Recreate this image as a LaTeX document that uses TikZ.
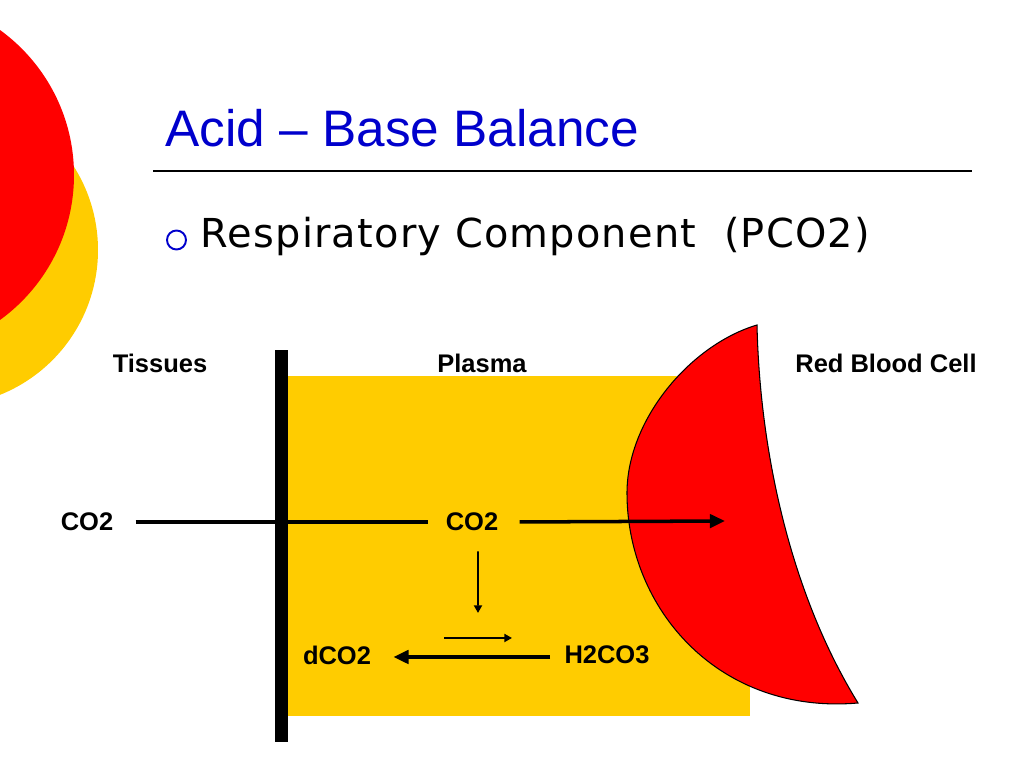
\documentclass[tikz,border=0pt]{standalone}
\usepackage{xcolor}
\usepackage{tikz}
\usepackage{fontspec}
\setmainfont{Liberation Sans}
\newfontfamily\bulletfont[LetterSpace=3]{DejaVu Sans}
\usetikzlibrary{arrows.meta}
\definecolor{slideblue}{RGB}{0,0,204}
\definecolor{plasmayellow}{RGB}{255,204,0}
\definecolor{cellred}{RGB}{255,0,0}
\tikzset{
	lbl/.style={font=\fontsize{7.25}{8}\selectfont\bfseries},
	flow/.style={line width=1pt,-{Triangle[length=4.3pt,width=3.8pt]}},
	thinflow/.style={line width=0.55pt,-{Triangle[length=2.2pt,width=2.3pt]}}
}
\begin{document}
\begin{tikzpicture}
	\useasboundingbox (0,0) rectangle (10.24,7.68);
	% corner circles
	\fill[plasmayellow] (-0.58,5.18) circle (1.56);
	\fill[cellred] (-1.05,5.93) circle (1.79);
	% heading
	\node[anchor=base west,inner sep=0,text=slideblue,font=\fontsize{14.6}{17}\selectfont] at (1.65,6.21) (title) {Acid -- Base Balance};
	\draw[line width=0.4pt] (1.53,5.97) -- (9.72,5.97);
	\draw[slideblue,line width=0.55pt] (1.765,5.28) circle (0.095);
	\node[anchor=base west,inner sep=0,font=\bulletfont\fontsize{11.35}{13}\selectfont] at (2.00,5.20) (sub) {Respiratory Component\ \ (PCO2)};
	% compartments
	\fill[plasmayellow] (2.87,3.92) rectangle (7.50,0.52);
	\fill[black] (2.75,4.18) rectangle (2.88,0.26);
	\filldraw[fill=cellred,draw=black,line width=0.3pt] (7.57,4.43) .. controls (6.90,4.23) and (6.27,3.48) .. (6.27,2.75)
		.. controls (6.27,1.58) and (7.20,0.53) .. (8.58,0.65)
		.. controls (7.92,1.72) and (7.60,3.12) .. (7.57,4.43) -- cycle;
	\node[lbl] at (1.60,4.05) (tis) {Tissues};
	\node[lbl] at (4.82,4.05) (pla) {Plasma};
	\node[lbl] at (8.86,4.05) (rbc) {Red Blood Cell};
	\node[lbl] at (0.87,2.46) (co2a) {CO2};
	\node[lbl] at (4.72,2.46) (co2b) {CO2};
	\node[lbl] at (3.37,1.13) (dco) {dCO2};
	\node[lbl] at (6.07,1.13) (hco) {H2CO3};
	\coordinate (cellin) at (7.25,2.47);
	\coordinate (down) at (4.78,1.55);
	\coordinate (fwda) at (4.44,1.30);
	\coordinate (fwdb) at (5.12,1.30);
	\draw [line width=1pt] ([xshift=1mm]co2a.east) -- ([xshift=-0.5mm]co2b.west);
	\draw [flow] ([xshift=0.9mm]co2b.east) -- (cellin);
	\draw [thinflow] ([xshift=0.6mm,yshift=-0.8mm]co2b.south) -- (down);
	\draw [thinflow] (fwda) -- (fwdb);
	\draw [flow] ([xshift=-0.2mm,yshift=-0.2mm]hco.west) -- ([xshift=1mm,yshift=-0.2mm]dco.east);
\end{tikzpicture}
\end{document}
